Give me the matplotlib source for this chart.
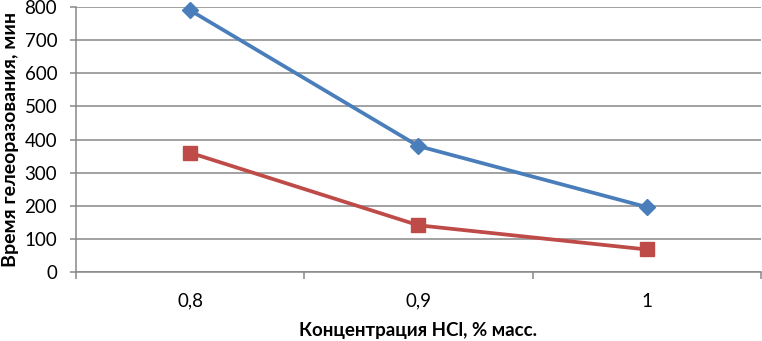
import matplotlib
matplotlib.use("Agg")
import matplotlib.pyplot as plt
from matplotlib.ticker import FixedLocator, NullFormatter, FixedFormatter

plt.rcParams['font.family'] = ['Lato', 'DejaVu Sans']

categories = ["0,8", "0,9", "1"]
series_blue = [790, 380, 196]
series_red = [360, 141, 68]
y_ticks = [0, 100, 200, 300, 400, 500, 600, 700, 800]

fig = plt.figure(figsize=(7.62, 3.41), dpi=100)
ax = fig.add_axes([0.0997, 0.2023, 0.8990, 0.7772])

x = list(range(len(categories)))
ax.plot(x, series_blue, color='#4A7EBB', lw=2.7, marker='D', markersize=8.5, zorder=3, clip_on=False)
ax.plot(x, series_red, color='#BE4B48', lw=2.7, marker='s', markersize=9.5, zorder=3, clip_on=False)

ax.set_xlim(-0.5, len(categories) - 0.5)
ax.set_ylim(0, 800)
ax.set_yticks(y_ticks)
ax.yaxis.grid(True, color='#878787', lw=1.1)
ax.set_axisbelow(True)

ax.xaxis.set_major_locator(FixedLocator([i - 0.5 for i in range(len(categories) + 1)]))
ax.xaxis.set_major_formatter(NullFormatter())
ax.xaxis.set_minor_locator(FixedLocator(x))
ax.xaxis.set_minor_formatter(FixedFormatter(categories))
ax.tick_params(axis='x', which='minor', length=0, pad=15, labelsize=13.5)
ax.tick_params(axis='x', which='major', length=5, color='#878787', width=1.1)
ax.tick_params(axis='y', length=4.5, color='#878787', width=1.1, labelsize=13.5, pad=9)

for s in ['top', 'right']:
    ax.spines[s].set_visible(False)
for s in ['left', 'bottom']:
    ax.spines[s].set_color('#878787')
    ax.spines[s].set_linewidth(1.1)

ax.set_xlabel("Концентрация HCl, % масс.", fontsize=13.5, fontweight='bold', labelpad=9)
ax.set_ylabel("Время гелеоразования, мин", fontsize=14, fontweight='bold', labelpad=4)

fig.savefig("out.png", dpi=100)
